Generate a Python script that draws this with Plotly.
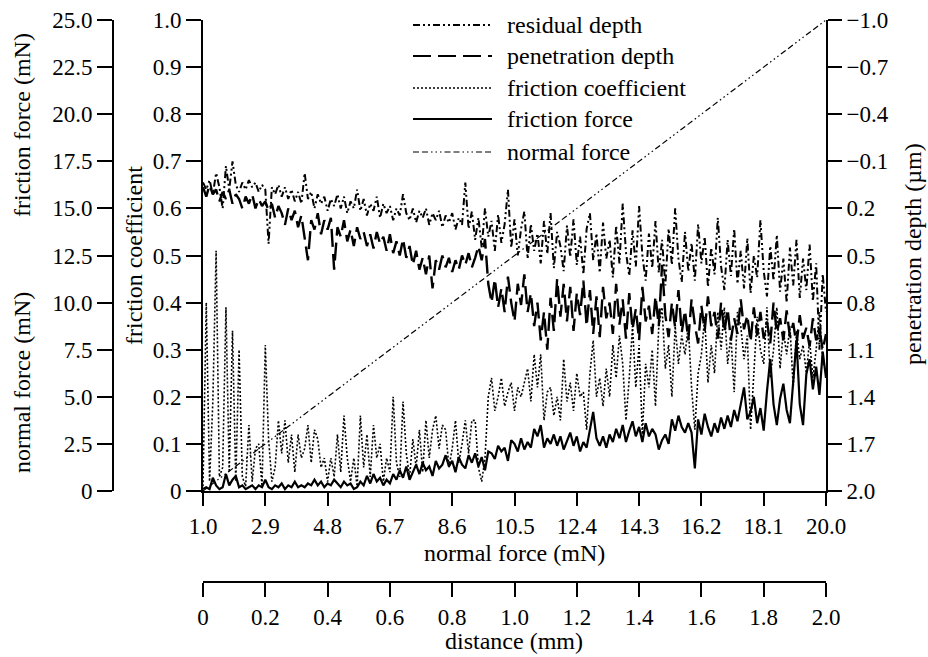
import plotly.graph_objects as go

# ---------------- data ----------------
# normal force ramp (mN), 1.0 -> 20.0
normal_force = [round(1.0 + 0.1 * i, 1) for i in range(191)]

friction_coefficient = [
    0.01, 0.40, 0.02, 0.19, 0.51, 0.03, 0.05, 0.39, 0.04, 0.34,
    0.02, 0.30, 0.03, 0.01, 0.14, 0.02, 0.09, 0.10, 0.01, 0.31,
    0.11, 0.02, 0.05, 0.15, 0.08, 0.15, 0.06, 0.12, 0.04, 0.12,
    0.07, 0.09, 0.14, 0.06, 0.13, 0.11, 0.05, 0.07, 0.02, 0.07,
    0.03, 0.12, 0.04, 0.16, 0.07, 0.02, 0.07, 0.01, 0.16, 0.05,
    0.12, 0.03, 0.14, 0.07, 0.10, 0.02, 0.07, 0.04, 0.20, 0.06,
    0.03, 0.19, 0.08, 0.03, 0.11, 0.05, 0.13, 0.04, 0.15, 0.07,
    0.13, 0.16, 0.09, 0.14, 0.13, 0.05, 0.09, 0.15, 0.06, 0.10,
    0.15, 0.08, 0.15, 0.15, 0.05, 0.02, 0.07, 0.20, 0.24, 0.17,
    0.20, 0.24, 0.18, 0.21, 0.23, 0.17, 0.22, 0.20, 0.23, 0.26,
    0.19, 0.29, 0.22, 0.29, 0.15, 0.21, 0.22, 0.16, 0.20, 0.15,
    0.28, 0.19, 0.23, 0.17, 0.25, 0.20, 0.21, 0.13, 0.25, 0.32,
    0.20, 0.24, 0.18, 0.26, 0.20, 0.31, 0.24, 0.33, 0.27, 0.15,
    0.24, 0.35, 0.22, 0.31, 0.12, 0.27, 0.22, 0.30, 0.18, 0.35,
    0.39, 0.26, 0.31, 0.20, 0.35, 0.27, 0.33, 0.29, 0.35, 0.22,
    0.13, 0.25, 0.29, 0.37, 0.23, 0.31, 0.25, 0.38, 0.30, 0.39,
    0.27, 0.33, 0.21, 0.38, 0.35, 0.28, 0.33, 0.13, 0.25, 0.37,
    0.30, 0.27, 0.39, 0.24, 0.30, 0.39, 0.26, 0.34, 0.29, 0.35,
    0.22, 0.34, 0.28, 0.31, 0.25, 0.32, 0.24, 0.30, 0.38, 0.28,
    0.25,
]

friction_force = [  # mN
    0.1, 0.2, 0.1, 0.7, 0.3, 0.1, 0.2, 0.9, 0.3, 0.6,
    0.8, 0.2, 0.3, 0.1, 0.2, 0.3, 0.1, 0.3, 0.2, 0.6,
    0.2, 0.1, 0.3, 0.2, 0.4, 0.1, 0.3, 0.2, 0.5, 0.2,
    0.3, 0.2, 0.4, 0.3, 0.6, 0.3, 0.5, 0.2, 0.4, 0.3,
    0.6, 0.4, 0.2, 0.5, 0.3, 0.4, 0.1, 0.2, 0.5, 0.3,
    0.8, 0.4, 0.9, 0.5, 0.7, 0.3, 0.6, 0.4, 0.9, 0.6,
    1.1, 0.7, 1.3, 0.6, 1.0, 1.4, 0.9, 1.5, 1.1, 1.3,
    0.8, 1.6, 1.2, 1.4, 1.9, 1.3, 1.6, 1.0, 1.8, 1.4,
    1.2, 1.9, 1.5, 2.0, 1.3, 1.8, 1.1, 2.1, 2.0, 1.7,
    2.4, 2.1, 2.3, 1.6, 2.7, 2.5, 2.1, 2.8, 2.2, 2.6,
    2.3, 3.3, 2.9, 3.5, 2.3, 2.8, 2.5, 3.0, 2.4, 2.9,
    2.2, 2.7, 3.1, 2.4, 2.9, 2.1, 2.6, 2.3, 3.2, 4.2,
    2.8, 2.4, 2.9, 2.3, 3.0, 2.6, 3.3, 2.8, 3.5, 2.6,
    3.2, 3.7, 2.9, 3.4, 2.6, 3.6, 2.9, 3.3, 3.0, 2.2,
    2.7, 3.0, 2.5, 3.8, 3.2, 4.0, 3.4, 3.1, 3.6, 3.1,
    1.2, 3.8, 3.0, 4.1, 3.4, 2.9, 3.6, 3.1, 3.9, 3.3,
    4.0, 3.4, 4.3, 3.7, 4.6, 5.5, 3.8, 4.2, 5.0, 3.6,
    4.4, 3.2, 5.3, 7.0, 4.6, 3.5, 4.9, 5.7, 4.3, 3.6,
    5.8, 8.0, 4.6, 3.5, 6.2, 7.0, 5.4, 6.6, 5.1, 7.4,
    6.0,
]

penetration_depth = [  # um
    0.065, 0.125, 0.05, 0.11, 0.08, 0.155, 0.095, 0.14, 0.08, 0.17,
    0.11, 0.14, 0.2, 0.125, 0.17, 0.11, 0.2, 0.14, 0.185, 0.155,
    0.215, 0.17, 0.26, 0.185, 0.23, 0.305, 0.2, 0.275, 0.215, 0.32,
    0.245, 0.38, 0.53, 0.275, 0.335, 0.23, 0.365, 0.275, 0.335, 0.26,
    0.59, 0.32, 0.38, 0.275, 0.41, 0.335, 0.44, 0.32, 0.395, 0.35,
    0.44, 0.365, 0.455, 0.35, 0.425, 0.38, 0.47, 0.365, 0.485, 0.41,
    0.5, 0.395, 0.515, 0.44, 0.56, 0.47, 0.59, 0.515, 0.62, 0.5,
    0.71, 0.53, 0.59, 0.5, 0.575, 0.515, 0.605, 0.53, 0.59, 0.5,
    0.56, 0.485, 0.575, 0.515, 0.44, 0.53, 0.395, 0.68, 0.8, 0.65,
    0.83, 0.71, 0.86, 0.635, 0.8, 0.92, 0.68, 0.815, 0.62, 0.86,
    0.74, 0.95, 0.8, 1.04, 0.86, 1.1, 0.77, 0.98, 0.65, 0.89,
    0.68, 0.92, 0.70, 0.98, 0.74, 0.88, 0.66, 0.95, 0.72, 1.00,
    0.76, 1.02, 0.70, 0.90, 0.80, 1.00, 0.68, 0.94, 0.78, 1.03,
    0.74, 0.97, 0.84, 1.04, 0.70, 0.92, 0.82, 1.00, 0.76, 0.95,
    0.56, 0.88, 1.02, 0.80, 0.96, 0.72, 0.99, 0.85, 1.04, 0.78,
    0.94, 1.06, 0.82, 0.98, 0.76, 0.95, 0.86, 1.03, 0.80, 0.99,
    0.84, 1.04, 0.90, 1.00, 0.78, 0.97, 0.88, 1.05, 0.83, 1.01,
    0.86, 1.03, 0.92, 1.06, 0.80, 0.99, 0.90, 1.04, 0.85, 1.02,
    0.93, 1.07, 0.88, 1.03, 0.96, 1.08, 0.90, 1.04, 0.97, 1.10,
    1.00,
]

residual_depth = [  # um
    0.035, 0.08, 0.02, 0.11, -0.025, 0.065, 0.2, -0.07, 0.08, -0.1,
    0.05, 0.095, 0.035, 0.08, 0.02, 0.065, 0.035, 0.095, 0.05, 0.08,
    0.425, 0.065, 0.11, 0.05, 0.125, 0.065, 0.14, 0.08, 0.155, 0.095,
    0.17, -0.025, 0.14, 0.095, 0.2, 0.11, 0.17, 0.125, 0.215, 0.14,
    0.185, 0.11, 0.2, 0.125, 0.23, 0.155, 0.2, 0.08, 0.215, 0.14,
    0.245, 0.17, 0.215, 0.125, 0.26, 0.17, 0.23, 0.185, 0.275, 0.2,
    0.245, 0.11, 0.23, 0.275, 0.2, 0.29, 0.215, 0.26, 0.2, 0.305,
    0.23, 0.275, 0.215, 0.32, 0.245, 0.29, 0.23, 0.335, 0.26, 0.305,
    0.035, 0.33, 0.22, 0.40, 0.26, 0.45, 0.20, 0.38, 0.28, 0.47,
    0.24, 0.42, 0.30, 0.08, 0.45, 0.27, 0.50, 0.33, 0.22, 0.52,
    0.30, 0.47, 0.36, 0.55, 0.28, 0.49, 0.23, 0.58, 0.35, 0.44,
    0.60, 0.31, 0.51, 0.27, 0.56, 0.38, 0.62, 0.33, 0.23, 0.53,
    0.36, 0.61, 0.29, 0.52, 0.40, 0.64, 0.31, 0.55, 0.17, 0.48,
    0.63, 0.34, 0.57, 0.185, 0.50, 0.66, 0.36, 0.58, 0.28, 0.61,
    0.40, 0.69, 0.33, 0.56, 0.20, 0.52, 0.67, 0.35, 0.60, 0.42,
    0.66, 0.30, 0.55, 0.38, 0.70, 0.45, 0.62, 0.26, 0.57, 0.72,
    0.40, 0.63, 0.33, 0.68, 0.47, 0.71, 0.39, 0.74, 0.50, 0.64,
    0.275, 0.60, 0.76, 0.44, 0.66, 0.37, 0.73, 0.52, 0.80, 0.45,
    0.69, 0.40, 0.77, 0.52, 0.72, 0.43, 0.79, 0.55, 1.10, 0.62,
    0.86,
]

# tick values / labels
nf_ticks = [1.0, 2.9, 4.8, 6.7, 8.6, 10.5, 12.4, 14.3, 16.2, 18.1, 20.0]
dist_ticks = [0, 0.2, 0.4, 0.6, 0.8, 1.0, 1.2, 1.4, 1.6, 1.8, 2.0]
coef_ticks = [0, 0.1, 0.2, 0.3, 0.4, 0.5, 0.6, 0.7, 0.8, 0.9, 1.0]
ff_ticks = [0, 2.5, 5.0, 7.5, 10.0, 12.5, 15.0, 17.5, 20.0, 22.5, 25.0]
depth_ticks = [-1.0, -0.7, -0.4, -0.1, 0.2, 0.5, 0.8, 1.1, 1.4, 1.7, 2.0]

series_names = ["residual depth", "penetration depth", "friction coefficient",
                "friction force", "normal force"]


def fmt(v):
    if v == 0:
        return "0"
    s = f"{v:.1f}"
    return s.replace("-", "\u2212")


# ---------------- style ----------------
W, H = 928, 657
FONT = "'Liberation Serif', 'Times New Roman', Times, 'DejaVu Serif', serif"
styles = {
    "residual depth": dict(dash="7px,3px,2px,3px,2px,3px", width=2.0),
    "penetration depth": dict(dash="18px,7px", width=2.4),
    "friction coefficient": dict(dash="2px,2px", width=1.6),
    "friction force": dict(dash="solid", width=2.2),
    "normal force": dict(dash="6px,3px,6px,3px,1.5px,3px,1.5px,3px,1.5px,3px", width=1.2),
}

fig = go.Figure()

fig.add_trace(go.Scatter(x=normal_force, y=normal_force, mode="lines",
                         yaxis="y4", name="normal force",
                         line=dict(color="black", **styles["normal force"])))
fig.add_trace(go.Scatter(x=normal_force, y=friction_coefficient, mode="lines",
                         yaxis="y", name="friction coefficient",
                         line=dict(color="black", **styles["friction coefficient"])))
fig.add_trace(go.Scatter(x=normal_force, y=residual_depth, mode="lines",
                         yaxis="y3", name="residual depth",
                         line=dict(color="black", **styles["residual depth"])))
fig.add_trace(go.Scatter(x=normal_force, y=penetration_depth, mode="lines",
                         yaxis="y3", name="penetration depth",
                         line=dict(color="black", **styles["penetration depth"])))
fig.add_trace(go.Scatter(x=normal_force, y=friction_force, mode="lines",
                         yaxis="y2", name="friction force",
                         line=dict(color="black", **styles["friction force"])))
# carrier for the distance axis
fig.add_trace(go.Scatter(x=[dist_ticks[0], dist_ticks[-1]], y=[None, None],
                         xaxis="x2", yaxis="y", mode="lines", showlegend=False,
                         hoverinfo="skip"))

axis_common = dict(showgrid=False, zeroline=False, showline=True,
                   linecolor="black", linewidth=2, ticks="outside",
                   tickwidth=2, tickcolor="black", automargin=False,
                   tickfont=dict(family=FONT, size=23, color="black"))

x0p, x1p = 203 / W, 826 / W
y0p, y1p = 1 - 491 / H, 1 - 20 / H

fig.update_layout(
    width=W, height=H,
    margin=dict(l=0, r=0, t=0, b=0),
    paper_bgcolor="white", plot_bgcolor="white",
    showlegend=False,
    font=dict(family=FONT, size=24, color="black"),
    xaxis=dict(domain=[x0p, x1p], range=[1.0, 20.0], anchor="y",
               tickvals=nf_ticks, ticktext=[fmt(v) for v in nf_ticks],
               ticklen=13, **axis_common),
    xaxis2=dict(overlaying="x", anchor="free", position=1 - 582 / H,
                side="bottom", range=[0, 2.0],
                tickvals=dist_ticks, ticktext=[fmt(v) for v in dist_ticks],
                ticklen=14, **axis_common),
    yaxis=dict(domain=[y0p, y1p], range=[0, 1.0], anchor="x",
               tickvals=coef_ticks, ticktext=[fmt(v) for v in coef_ticks],
               ticklen=15, **axis_common),
    yaxis2=dict(overlaying="y", anchor="free", position=113 / W, side="left",
                range=[0, 25.0], tickvals=ff_ticks,
                ticktext=[fmt(v) for v in ff_ticks], ticklen=15, **axis_common),
    yaxis3=dict(overlaying="y", anchor="x", side="right", range=[2.0, -1.0],
                tickvals=depth_ticks, ticktext=[fmt(v) for v in depth_ticks],
                ticklen=14, **axis_common),
    yaxis4=dict(overlaying="y", visible=False, range=[1.0, 20.0]),
)

# axis titles
titles = [
    ("friction force (mN)", 22, 125, -90),
    ("normal force (mN)", 22, 383, -90),
    ("friction coefficient", 134, 256, -90),
    ("penetration depth (\u00b5m)", 913, 254, -90),
    ("normal force (mN)", 514, 553, 0),
    ("distance (mm)", 514, 641, 0),
]
for text, px, py, ang in titles:
    fig.add_annotation(text=text, x=px / W, y=1 - py / H, xref="paper",
                       yref="paper", showarrow=False, textangle=ang,
                       xanchor="center", yanchor="middle",
                       font=dict(family=FONT, size=24, color="black"))

# legend (drawn manually to get long line samples)
rows = [25, 56, 88, 119, 152]
for name, ry in zip(series_names, rows):
    st = styles[name]
    fig.add_shape(type="line", xref="paper", yref="paper",
                  x0=413 / W, x1=492 / W, y0=1 - ry / H, y1=1 - ry / H,
                  line=dict(color="black", width=min(st["width"], 2.0),
                            dash=st["dash"]))
    fig.add_annotation(text=name, x=505 / W, y=1 - ry / H, xref="paper",
                       yref="paper", showarrow=False, xanchor="left",
                       yanchor="middle",
                       font=dict(family=FONT, size=24, color="black"))

fig.write_html("out.html")
